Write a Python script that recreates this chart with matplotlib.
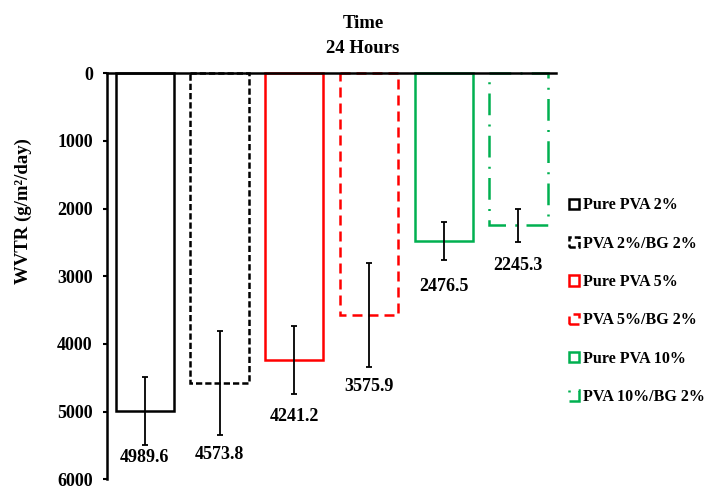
import matplotlib
matplotlib.use("Agg")
import matplotlib.pyplot as plt
import numpy as np

plt.rcParams.update({
    "font.family": ["Liberation Serif", "DejaVu Serif"],
    "font.weight": "bold",
    "font.size": 13,
})

# ── data ──────────────────────────────────────────────────────────
samples = ["Pure PVA 2%", "PVA 2%/BG 2%", "Pure PVA 5%",
           "PVA 5%/BG 2%", "Pure PVA 10%", "PVA 10%/BG 2%"]
wvtr = [4989.6, 4573.8, 4241.2, 3575.9, 2476.5, 2245.3]
wvtr_err = [500, 770, 500, 770, 280, 245]
y_ticks = [0, 1000, 2000, 3000, 4000, 5000, 6000]

# ── styles ────────────────────────────────────────────────────────
GREEN = "#00B050"
edge_colors = ["black", "black", "#FF0000", "#FF0000", GREEN, GREEN]
line_styles = ["-", (0, (2.5, 1.2)), "-", (0, (4, 2.4)), "-", (0, (8.7, 3.7, 0.8, 3.7))]
label_gap = [9, 14, 16, 14, 19, 17]   # points below the error bar end

fig = plt.figure(figsize=(7.04, 4.91), dpi=100)
ax = fig.add_axes([0.1516, 0.0238, 0.6378, 0.8269])

x = np.arange(len(samples))
bars = ax.bar(x, wvtr, width=0.78, facecolor="white",
              edgecolor=edge_colors, linewidth=1.8, zorder=2)
for b, ls in zip(bars, line_styles):
    b.set_linestyle(ls)
    b.set_clip_on(False)

ax.errorbar(x, wvtr, yerr=wvtr_err, fmt="none", ecolor="black",
            elinewidth=1.3, capsize=2, capthick=1.3, zorder=3)

for xi, v, e, gap in zip(x, wvtr, wvtr_err, label_gap):
    ax.annotate(f"{v}", xy=(xi, v + e), xytext=(0, -gap),
                textcoords="offset points", ha="center", va="center",
                fontsize=13, fontweight="bold")

# ── axes ──────────────────────────────────────────────────────────
ax.set_ylim(6000, 0)
ax.set_xlim(-0.51, 5.5)
ax.set_xticks([])
ax.set_yticks(y_ticks)
ax.set_yticklabels([str(t) for t in y_ticks])
ax.tick_params(axis="y", direction="out", length=3, width=1.5, pad=7,
               labelsize=13)
for side in ["bottom", "right"]:
    ax.spines[side].set_visible(False)
for side in ["top", "left"]:
    ax.spines[side].set_linewidth(1.8)
    ax.spines[side].set_zorder(4)

fig.text(0.033, 0.570, "WVTR (g/m²/day)", rotation=90,
         ha="center", va="center", fontsize=13.5, fontweight="bold")
fig.text(0.5156, 0.9267, "Time\n24 Hours", ha="center", va="center",
         linespacing=1.55, fontsize=13.5, fontweight="bold")

fig.legend(bars, samples, loc="upper left",
           bbox_to_anchor=(0.808, 0.598), bbox_transform=fig.transFigure,
           frameon=False, borderpad=0, borderaxespad=0,
           handlelength=0.62, handleheight=0.62, handletextpad=0.25,
           labelspacing=1.40, fontsize=11.5)

fig.savefig("out.png", dpi=100)
